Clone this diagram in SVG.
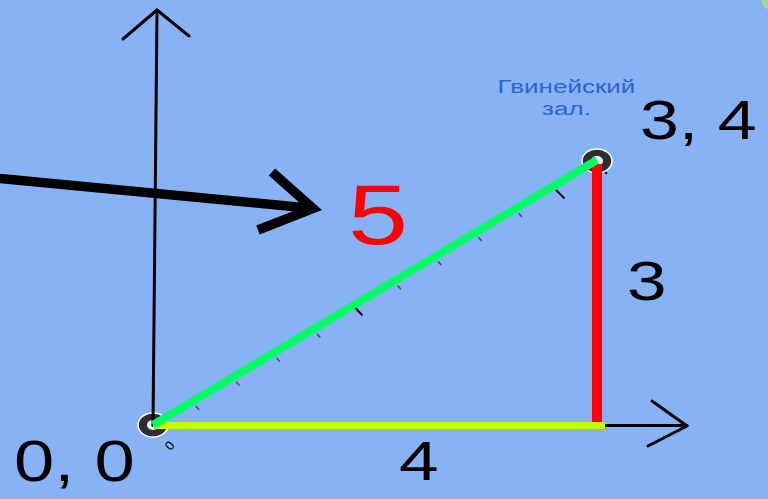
<svg xmlns="http://www.w3.org/2000/svg" width="768" height="499" viewBox="0 0 768 499">
<style>
.ax{stroke:#000;stroke-width:3;fill:none;stroke-linecap:round;stroke-linejoin:round}
.big{stroke:#000;stroke-width:9.5;fill:none;stroke-linejoin:miter}
.num{font-family:"Liberation Sans",Arial,sans-serif;fill:#000}
.tk{stroke:#555;stroke-width:1.6}
.tkb{stroke:#111;stroke-width:2}
.pt{fill:#2e2e2e;stroke:#fff;stroke-width:1.5}
.hall{font-family:"Liberation Sans",Arial,sans-serif;font-size:19px;fill:#2d66cc;text-anchor:middle}
</style>
<rect width="768" height="499" fill="#87b2f6"/>
<ellipse cx="768" cy="0" rx="7" ry="9" fill="#a3d6a0"/>
<g id="points">
<g id="p00"><ellipse class="pt" cx="153" cy="425" rx="15" ry="12"/><ellipse cx="153" cy="425" rx="6" ry="5" fill="#fff"/></g>
<g id="p34"><ellipse class="pt" cx="597" cy="161" rx="15" ry="12"/><ellipse cx="597" cy="161" rx="6" ry="5" fill="#fff"/><circle cx="606" cy="173" r="1.3" fill="#222"/></g>
</g>
<g id="connectors">
<polyline class="ax" points="153,425 157,10"/>
<polyline class="ax" points="123,39 157,10 189,36"/>
<polyline class="ax" points="153,425.5 687,425.5"/>
<polyline class="ax" points="652,401 687,426 648,446"/>
<line x1="-5" y1="178" x2="313" y2="208.5" class="big"/>
<polyline class="big" points="272,172 313,208.5 258,230"/>
<line x1="597" y1="164" x2="597" y2="423" stroke="#ff0000" stroke-width="10"/>
<line x1="153" y1="425.5" x2="605" y2="425.5" stroke="#c6ff00" stroke-width="7"/>
<line x1="153" y1="425" x2="597" y2="160" stroke="#00ff66" stroke-width="8"/>
<g id="ticks">
<line class="tk" x1="195.8" y1="405.9" x2="199.1" y2="409.7"/>
<line class="tk" x1="236.2" y1="381.8" x2="239.5" y2="385.6"/>
<line class="tk" x1="276.5" y1="357.8" x2="279.8" y2="361.5"/>
<line class="tk" x1="316.9" y1="333.7" x2="320.2" y2="337.4"/>
<line class="tkb" x1="355.5" y1="308" x2="362.5" y2="315.5"/>
<line class="tk" x1="397.6" y1="285.5" x2="400.9" y2="289.2"/>
<line class="tk" x1="438.0" y1="261.4" x2="441.3" y2="265.1"/>
<line class="tk" x1="478.4" y1="237.3" x2="481.7" y2="241.0"/>
<line class="tk" x1="518.7" y1="213.2" x2="522.0" y2="217.0"/>
<line class="tkb" x1="556" y1="190" x2="564.5" y2="198.5"/>
</g>
</g>
<g id="labels">
<text class="num" transform="translate(348,244) scale(1.27,1)" font-size="85" style="fill:#ff0000">5</text>
<text class="num" transform="translate(640,139) scale(1.27,1)" font-size="55">3, 4</text>
<text class="num" transform="translate(14,481) scale(1.27,1)" font-size="57">0, 0</text>
<text class="num" transform="translate(399,480) scale(1.27,1)" font-size="56">4</text>
<text class="num" transform="translate(627,300) scale(1.27,1)" font-size="56">3</text>
<text class="num" transform="translate(170,446) rotate(-50)" font-size="13" text-anchor="middle" dy="4">0</text>
<g id="hall" transform="translate(566.5,0) scale(1.37,1)">
<text class="hall" x="0" y="93">Гвинейский</text>
<text class="hall" x="0" y="115">зал.</text>
</g>
</g>
</svg>
